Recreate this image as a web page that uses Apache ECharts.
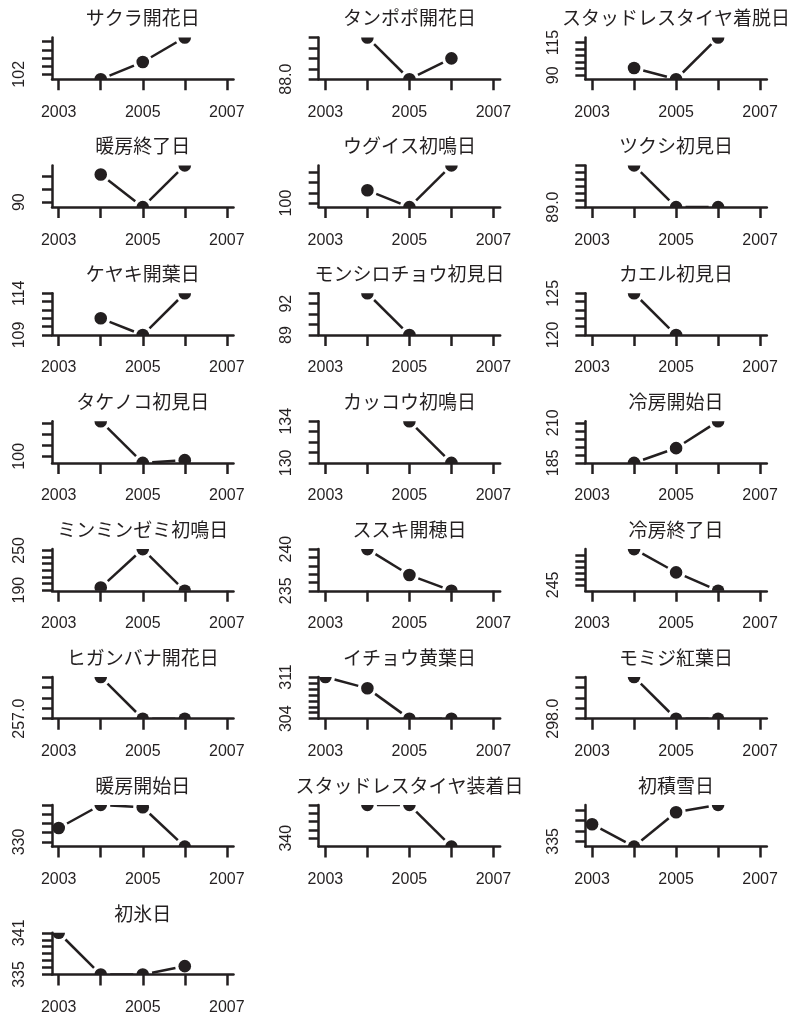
<!DOCTYPE html>
<html>
<head>
<meta charset="utf-8">
<script src="https://cdn.jsdelivr.net/npm/echarts@6/dist/echarts.min.js"></script>
<style>
  html, body { margin: 0; padding: 0; background: #ffffff; }
  #chart { width: 800px; height: 1019px; }
</style>
</head>
<body>
<div id="chart"></div>
<script>
// Years on the shared x axis and the ones that carry a label
const years = [2003, 2004, 2005, 2006, 2007];
const yearLabels = [2003, 2005, 2007];

// Panel titles (phenology / seasonal events)
const titles = [
  'サクラ開花日', 'タンポポ開花日', 'スタッドレスタイヤ着脱日',
  '暖房終了日', 'ウグイス初鳴日', 'ツクシ初見日',
  'ケヤキ開葉日', 'モンシロチョウ初見日', 'カエル初見日',
  'タケノコ初見日', 'カッコウ初鳴日', '冷房開始日',
  'ミンミンゼミ初鳴日', 'ススキ開穂日', '冷房終了日',
  'ヒガンバナ開花日', 'イチョウ黄葉日', 'モミジ紅葉日',
  '暖房開始日', 'スタッドレスタイヤ装着日', '初積雪日',
  '初氷日'
];

// Day-of-year values, one entry per year (null = no observation)
const sakura     = [null, 101.4, 103.5, 106.5, null];
const tanpopo    = [null, 90, 88, 89, null];
const tireOff    = [null, 95.5, 87, 118.8, null];
const heatEnd    = [null, 100.7, 88.1, 104.2, null];
const uguisu     = [null, 102.5, 99.2, 107.4, null];
const tsukushi   = [null, 92, 89, 89, null];
const keyaki     = [null, 111, 109, 114, null];
const monshiro   = [null, 93, 89, null, null];
const kaeru      = [null, 125, 120, null, null];
const takenoko   = [null, 106.4, 98.8, 99.3, null];
const kakkou     = [null, null, 134, 130, null];
const coolStart  = [null, 185, 194.2, 211, null];
const minmin     = [null, 194, 252, 189, null];
const susuki     = [null, 240, 236.9, 235, null];
const coolEnd    = [null, 251, 247.1, 244, null];
const higanbana  = [null, 259, 257, 257, null];
const ichou      = [311, 309.1, 304, 304, null];
const momiji     = [null, 300, 298, 298, null];
const heatStart  = [333, 338, 337.5, 329, null];
const tireOn     = [null, 348, 348, 338, null];
const firstSnow  = [338.3, 334, 340.6, 342, null];
const firstIce   = [341, 335, 335, 336.2, null];

const panelValues = [
  sakura, tanpopo, tireOff, heatEnd, uguisu, tsukushi,
  keyaki, monshiro, kaeru, takenoko, kakkou, coolStart,
  minmin, susuki, coolEnd, higanbana, ichou, momiji,
  heatStart, tireOn, firstSnow, firstIce
];

// y tick positions per panel
const panelTicks = [
  [102, 103, 104, 105, 106], [88, 88.5, 89, 89.5, 90], [90, 95, 100, 105, 110, 115],
  [90, 95, 100], [100, 102, 104, 106], [89, 89.5, 90, 90.5, 91, 91.5, 92],
  [109, 110, 111, 112, 113, 114], [89, 90, 91, 92, 93], [120, 121, 122, 123, 124, 125],
  [100, 102, 104, 106], [130, 131, 132, 133, 134], [185, 190, 195, 200, 205, 210],
  [190, 200, 210, 220, 230, 240, 250], [235, 236, 237, 238, 239, 240], [245, 246, 247, 248, 249, 250],
  [257, 257.5, 258, 258.5, 259], [304, 305, 306, 307, 308, 309, 310, 311], [298, 298.5, 299, 299.5, 300],
  [330, 332, 334, 336, 338], [340, 342, 344, 346, 348], [335, 337, 339, 341],
  [335, 336, 337, 338, 339, 340, 341]
];

// y tick labels that are printed per panel
const panelLabels = [
  ['102'], ['88.0'], ['90', '115'],
  ['90'], ['100'], ['89.0'],
  ['109', '114'], ['89', '92'], ['120', '125'],
  ['100'], ['130', '134'], ['185', '210'],
  ['190', '250'], ['235', '240'], ['245'],
  ['257.0'], ['304', '311'], ['298.0'],
  ['330'], ['340'], ['335'],
  ['335', '341']
];

const COLS = 3;
const cellW = 800 / COLS, cellH = 127.9;
const plotLeft = 52, plotWidth = 181.5, plotTop = 37.5, plotHeight = 41.7;
const ink = '#231f20';
const axisWidth = 2.5;
const pointRadius = 6.3;
const segmentGap = 9.5;
const numFont = '"Liberation Sans", Arial, sans-serif';
const jpFont = '"Noto Sans CJK JP", sans-serif';
const xPad = 0.04 * (years[years.length - 1] - years[0]);

const grid = [], xAxis = [], yAxis = [], series = [], title = [];

panelValues.forEach(function (vals, i) {
  const r = Math.floor(i / COLS), c = i % COLS;
  const left = c * cellW + plotLeft;
  const top = r * cellH + plotTop;
  grid.push({ left: left, top: top, width: plotWidth, height: plotHeight, containLabel: false });

  title.push({
    text: titles[i],
    left: left + plotWidth / 2,
    top: r * cellH + 7.5,
    textAlign: 'center',
    padding: 0,
    textStyle: { fontFamily: jpFont, fontSize: 19, fontWeight: 'normal', color: ink, lineHeight: 21 }
  });

  const present = vals.filter(function (v) { return v !== null; });
  const yMin = Math.min.apply(null, present);
  const yMax = Math.max.apply(null, present);
  const labels = panelLabels[i];

  xAxis.push({
    gridIndex: i, type: 'value',
    min: years[0] - xPad, max: years[years.length - 1] + xPad,
    axisLine: { show: true, onZero: false, lineStyle: { color: ink, width: axisWidth } },
    axisTick: { show: true, customValues: years, length: 11, lineStyle: { color: ink, width: axisWidth } },
    axisLabel: {
      show: true, customValues: yearLabels, margin: 25,
      fontFamily: numFont, fontSize: 16, lineHeight: 16, color: ink,
      formatter: function (v) { return String(Math.round(v)); }
    },
    splitLine: { show: false }
  });

  yAxis.push({
    gridIndex: i, type: 'value', min: yMin, max: yMax,
    axisLine: { show: true, onZero: false, lineStyle: { color: ink, width: axisWidth } },
    axisTick: { show: true, customValues: panelTicks[i], length: 10, lineStyle: { color: ink, width: axisWidth } },
    axisLabel: {
      show: true, customValues: labels.map(Number), rotate: 90, margin: 24,
      fontFamily: numFont, fontSize: 16, lineHeight: 16, color: ink,
      formatter: function (v) {
        const hit = labels.find(function (s) { return Math.abs(Number(s) - v) < 1e-9; });
        return hit !== undefined ? hit : '';
      }
    },
    splitLine: { show: false }
  });

  // consecutive observed pairs -> connecting segments (drawn with gaps around points)
  const segs = [];
  for (let k = 0; k + 1 < vals.length; k++) {
    if (vals[k] !== null && vals[k + 1] !== null) {
      segs.push([years[k], vals[k], years[k + 1], vals[k + 1]]);
    }
  }
  series.push({
    type: 'custom', xAxisIndex: i, yAxisIndex: i, clip: true, silent: true,
    encode: { x: [0, 2], y: [1, 3] },
    data: segs,
    renderItem: function (params, api) {
      const a = api.coord([api.value(0), api.value(1)]);
      const b = api.coord([api.value(2), api.value(3)]);
      const dx = b[0] - a[0], dy = b[1] - a[1];
      const d = Math.sqrt(dx * dx + dy * dy);
      if (d <= 2 * segmentGap) return null;
      const ux = dx / d, uy = dy / d;
      return {
        type: 'line',
        shape: {
          x1: a[0] + ux * segmentGap, y1: a[1] + uy * segmentGap,
          x2: b[0] - ux * segmentGap, y2: b[1] - uy * segmentGap
        },
        style: { stroke: ink, lineWidth: axisWidth }
      };
    }
  });

  const pts = [];
  vals.forEach(function (v, k) { if (v !== null) pts.push([years[k], v]); });
  series.push({
    type: 'custom', xAxisIndex: i, yAxisIndex: i, clip: true, silent: true,
    encode: { x: 0, y: 1 },
    data: pts,
    renderItem: function (params, api) {
      const p = api.coord([api.value(0), api.value(1)]);
      return { type: 'circle', shape: { cx: p[0], cy: p[1], r: pointRadius }, style: { fill: ink } };
    }
  });
});

const chart = echarts.init(document.getElementById('chart'), null, { renderer: 'canvas' });
chart.setOption({
  animation: false,
  backgroundColor: '#ffffff',
  title: title,
  grid: grid,
  xAxis: xAxis,
  yAxis: yAxis,
  series: series
});
</script>
</body>
</html>
